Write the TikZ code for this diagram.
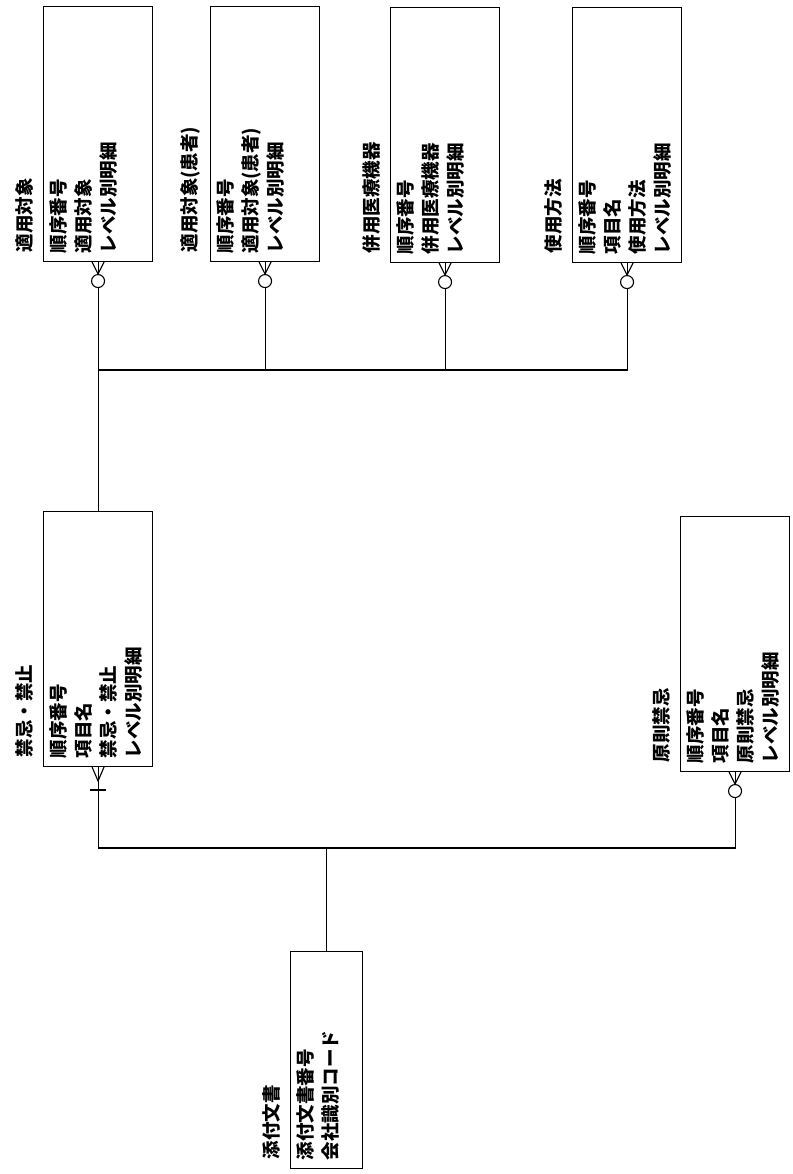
\documentclass[tikz,border=0pt]{standalone}
\usepackage{fontspec}
\setmainfont{Noto Sans CJK JP}
\usetikzlibrary{positioning}

\begin{document}
\begin{tikzpicture}[x=1pt, y=-1pt, line width=1.1pt,
	entity/.style={draw, rectangle, anchor=south west, inner sep=0pt, minimum width=109pt, minimum height=255pt},
	attrs/.style={rotate=90, anchor=north west, align=left, inner sep=0pt, font=\fontsize{18.5}{25}\selectfont\bfseries},
	title/.style={rotate=90, anchor=south west, inner sep=0pt, font=\fontsize{18.5}{25}\selectfont\bfseries},
	zeroone/.style={draw, circle, inner sep=0pt, minimum size=13pt}]

	\useasboundingbox (0,0) rectangle (792,1174);

	\newcommand\drawEntity[6][]{
		\node[entity,#1] (#2) at (#3,#4) {};
		\node[title] (#2-title) at ([xshift=-9pt, yshift=9pt]#2.south west) {#5};
		\node[attrs] (#2-attrs) at ([xshift=6pt, yshift=8pt]#2.south west) {#6};
	}
	\newcommand\drawMany[2]{
		\draw[] (#1.south) ++(-6,0) -- ++(6,#2) -- ++(6,-#2);
		\draw[] (#1.south) -- ++(0,#2);
	}

	\drawEntity{tekiyo}{43}{262}{適用対象}{順序番号\\適用対象\\レベル別明細}
	\drawEntity{kanja}{210}{262}{適用対象(患者)}{順序番号\\適用対象(患者)\\レベル別明細}
	\drawEntity{heiyo}{390}{263}{併用医療機器}{順序番号\\併用医療機器\\レベル別明細}
	\drawEntity{shiyo}{572}{263}{使用方法}{順序番号\\項目名\\使用方法\\レベル別明細}
	\drawEntity{kinki}{43}{767}{禁忌・禁止}{順序番号\\項目名\\禁忌・禁止\\レベル別明細}
	\drawEntity{gensoku}{680}{772}{原則禁忌}{順序番号\\項目名\\原則禁忌\\レベル別明細}
	\drawEntity[minimum width=72pt, minimum height=217pt]{tenpu}{290}{1169}{添付文書}{添付文書番号\\会社識別コード}

	\drawMany{tekiyo}{12}
	\drawMany{kanja}{12}
	\drawMany{heiyo}{12}
	\drawMany{shiyo}{12}
	\drawMany{gensoku}{12}
	\drawMany{kinki}{14}

	\node[zeroone, below=12pt of tekiyo.south] (tekiyo-o) {};
	\node[zeroone, below=12pt of kanja.south] (kanja-o) {};
	\node[zeroone, below=12pt of heiyo.south] (heiyo-o) {};
	\node[zeroone, below=12pt of shiyo.south] (shiyo-o) {};
	\node[zeroone, below=12pt of gensoku.south] (gensoku-o) {};
	\draw[] ([xshift=-8pt, yshift=-23pt]kinki.south) -- ([xshift=8pt, yshift=-23pt]kinki.south);

	\coordinate (busA) at (tekiyo-o.south |- 0,370);
	\coordinate (busB) at (tenpu.north |- 0,848);

	\draw[] (tekiyo-o) -- (kinki);
	\draw[] (busA) -| (shiyo-o);
	\draw[] (kanja-o) -- (kanja-o |- busA);
	\draw[] (heiyo-o) -- (heiyo-o |- busA);

	\draw[] (kinki) |- (busB) -| (gensoku-o);
	\draw[] (busB) -- (tenpu);
\end{tikzpicture}
\end{document}
